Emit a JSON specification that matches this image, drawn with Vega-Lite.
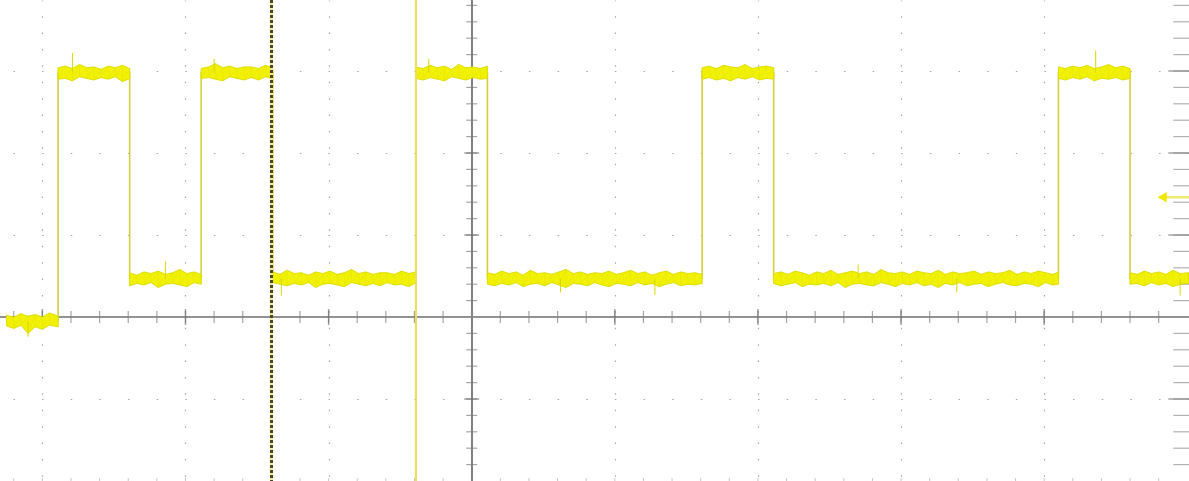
{
  "$schema": "https://vega.github.io/schema/vega-lite/v6.json",
  "width": 1189,
  "height": 481,
  "autosize": {"type": "none"},
  "padding": 0,
  "background": "#ffffff",
  "config": {
    "view": {"stroke": null},
    "axis": {"labels": false, "ticks": false, "domain": false, "grid": false, "title": null}
  },
  "datasets": {
    "band": [
      {"g":0,"t":-3.25,"lo":-0.11,"hi":0.02},{"g":0,"t":-3.20,"lo":-0.14,"hi":0.00},{"g":0,"t":-3.15,"lo":-0.10,"hi":0.04},{"g":0,"t":-3.10,"lo":-0.20,"hi":0.01},{"g":0,"t":-3.05,"lo":-0.12,"hi":0.03},{"g":0,"t":-3.00,"lo":-0.15,"hi":0.00},{"g":0,"t":-2.95,"lo":-0.10,"hi":0.05},{"g":0,"t":-2.89,"lo":-0.12,"hi":0.01},
      {"g":1,"t":-2.89,"lo":2.90,"hi":3.04},{"g":1,"t":-2.84,"lo":2.91,"hi":3.06},{"g":1,"t":-2.79,"lo":2.88,"hi":3.03},{"g":1,"t":-2.74,"lo":2.93,"hi":3.08},{"g":1,"t":-2.69,"lo":2.91,"hi":3.04},{"g":1,"t":-2.64,"lo":2.89,"hi":3.05},{"g":1,"t":-2.59,"lo":2.92,"hi":3.02},{"g":1,"t":-2.54,"lo":2.90,"hi":3.06},{"g":1,"t":-2.49,"lo":2.93,"hi":3.04},{"g":1,"t":-2.44,"lo":2.87,"hi":3.07},{"g":1,"t":-2.39,"lo":2.91,"hi":3.03},
      {"g":2,"t":-2.39,"lo":0.38,"hi":0.54},{"g":2,"t":-2.34,"lo":0.41,"hi":0.51},{"g":2,"t":-2.29,"lo":0.39,"hi":0.55},{"g":2,"t":-2.24,"lo":0.42,"hi":0.53},{"g":2,"t":-2.19,"lo":0.36,"hi":0.56},{"g":2,"t":-2.14,"lo":0.40,"hi":0.52},{"g":2,"t":-2.09,"lo":0.41,"hi":0.54},{"g":2,"t":-2.04,"lo":0.39,"hi":0.58},{"g":2,"t":-1.99,"lo":0.37,"hi":0.53},{"g":2,"t":-1.94,"lo":0.42,"hi":0.55},{"g":2,"t":-1.89,"lo":0.40,"hi":0.52},
      {"g":3,"t":-1.89,"lo":2.91,"hi":3.03},{"g":3,"t":-1.84,"lo":2.92,"hi":3.05},{"g":3,"t":-1.79,"lo":2.90,"hi":3.09},{"g":3,"t":-1.74,"lo":2.88,"hi":3.04},{"g":3,"t":-1.69,"lo":2.93,"hi":3.06},{"g":3,"t":-1.64,"lo":2.91,"hi":3.03},{"g":3,"t":-1.59,"lo":2.89,"hi":3.05},{"g":3,"t":-1.54,"lo":2.92,"hi":3.05},{"g":3,"t":-1.49,"lo":2.89,"hi":3.03},{"g":3,"t":-1.44,"lo":2.93,"hi":3.07},{"g":3,"t":-1.39,"lo":2.90,"hi":3.04},
      {"g":4,"t":-1.39,"lo":0.42,"hi":0.55},{"g":4,"t":-1.34,"lo":0.40,"hi":0.52},{"g":4,"t":-1.29,"lo":0.38,"hi":0.57},{"g":4,"t":-1.24,"lo":0.41,"hi":0.53},{"g":4,"t":-1.19,"lo":0.39,"hi":0.54},{"g":4,"t":-1.14,"lo":0.42,"hi":0.51},{"g":4,"t":-1.09,"lo":0.36,"hi":0.55},{"g":4,"t":-1.04,"lo":0.40,"hi":0.53},{"g":4,"t":-0.99,"lo":0.41,"hi":0.56},{"g":4,"t":-0.94,"lo":0.39,"hi":0.52},{"g":4,"t":-0.89,"lo":0.37,"hi":0.54},{"g":4,"t":-0.84,"lo":0.42,"hi":0.58},{"g":4,"t":-0.79,"lo":0.40,"hi":0.53},{"g":4,"t":-0.74,"lo":0.38,"hi":0.55},{"g":4,"t":-0.69,"lo":0.41,"hi":0.52},{"g":4,"t":-0.64,"lo":0.38,"hi":0.54},{"g":4,"t":-0.59,"lo":0.42,"hi":0.54},{"g":4,"t":-0.54,"lo":0.39,"hi":0.52},{"g":4,"t":-0.49,"lo":0.40,"hi":0.56},{"g":4,"t":-0.44,"lo":0.37,"hi":0.53},{"g":4,"t":-0.39,"lo":0.42,"hi":0.55},
      {"g":5,"t":-0.39,"lo":2.91,"hi":3.05},{"g":5,"t":-0.34,"lo":2.89,"hi":3.03},{"g":5,"t":-0.29,"lo":2.92,"hi":3.07},{"g":5,"t":-0.24,"lo":2.90,"hi":3.04},{"g":5,"t":-0.19,"lo":2.88,"hi":3.06},{"g":5,"t":-0.14,"lo":2.93,"hi":3.02},{"g":5,"t":-0.09,"lo":2.91,"hi":3.08},{"g":5,"t":-0.04,"lo":2.89,"hi":3.04},{"g":5,"t":0.01,"lo":2.92,"hi":3.05},{"g":5,"t":0.06,"lo":2.90,"hi":3.03},{"g":5,"t":0.11,"lo":2.91,"hi":3.06},
      {"g":6,"t":0.11,"lo":0.40,"hi":0.54},{"g":6,"t":0.16,"lo":0.38,"hi":0.52},{"g":6,"t":0.21,"lo":0.41,"hi":0.56},{"g":6,"t":0.26,"lo":0.39,"hi":0.53},{"g":6,"t":0.31,"lo":0.42,"hi":0.55},{"g":6,"t":0.36,"lo":0.37,"hi":0.51},{"g":6,"t":0.41,"lo":0.40,"hi":0.57},{"g":6,"t":0.46,"lo":0.41,"hi":0.53},{"g":6,"t":0.51,"lo":0.38,"hi":0.54},{"g":6,"t":0.56,"lo":0.42,"hi":0.52},{"g":6,"t":0.61,"lo":0.39,"hi":0.55},{"g":6,"t":0.66,"lo":0.36,"hi":0.58},{"g":6,"t":0.71,"lo":0.41,"hi":0.53},{"g":6,"t":0.76,"lo":0.40,"hi":0.55},{"g":6,"t":0.81,"lo":0.38,"hi":0.52},{"g":6,"t":0.86,"lo":0.42,"hi":0.54},{"g":6,"t":0.91,"lo":0.39,"hi":0.53},{"g":6,"t":0.96,"lo":0.37,"hi":0.56},{"g":6,"t":1.01,"lo":0.41,"hi":0.52},{"g":6,"t":1.06,"lo":0.40,"hi":0.54},{"g":6,"t":1.11,"lo":0.38,"hi":0.57},{"g":6,"t":1.16,"lo":0.42,"hi":0.53},{"g":6,"t":1.21,"lo":0.39,"hi":0.55},{"g":6,"t":1.26,"lo":0.41,"hi":0.51},{"g":6,"t":1.31,"lo":0.37,"hi":0.54},{"g":6,"t":1.36,"lo":0.40,"hi":0.56},{"g":6,"t":1.41,"lo":0.42,"hi":0.52},{"g":6,"t":1.46,"lo":0.38,"hi":0.55},{"g":6,"t":1.51,"lo":0.40,"hi":0.53},{"g":6,"t":1.56,"lo":0.39,"hi":0.54},{"g":6,"t":1.61,"lo":0.41,"hi":0.52},
      {"g":7,"t":1.61,"lo":2.90,"hi":3.04},{"g":7,"t":1.66,"lo":2.92,"hi":3.06},{"g":7,"t":1.71,"lo":2.89,"hi":3.03},{"g":7,"t":1.76,"lo":2.91,"hi":3.07},{"g":7,"t":1.81,"lo":2.88,"hi":3.05},{"g":7,"t":1.86,"lo":2.92,"hi":3.04},{"g":7,"t":1.91,"lo":2.90,"hi":3.08},{"g":7,"t":1.96,"lo":2.93,"hi":3.03},{"g":7,"t":2.01,"lo":2.89,"hi":3.05},{"g":7,"t":2.06,"lo":2.91,"hi":3.06},{"g":7,"t":2.11,"lo":2.90,"hi":3.04},
      {"g":8,"t":2.11,"lo":0.41,"hi":0.53},{"g":8,"t":2.16,"lo":0.38,"hi":0.55},{"g":8,"t":2.21,"lo":0.40,"hi":0.52},{"g":8,"t":2.26,"lo":0.42,"hi":0.56},{"g":8,"t":2.31,"lo":0.37,"hi":0.54},{"g":8,"t":2.36,"lo":0.40,"hi":0.51},{"g":8,"t":2.41,"lo":0.39,"hi":0.55},{"g":8,"t":2.46,"lo":0.41,"hi":0.53},{"g":8,"t":2.51,"lo":0.38,"hi":0.57},{"g":8,"t":2.56,"lo":0.42,"hi":0.52},{"g":8,"t":2.61,"lo":0.36,"hi":0.54},{"g":8,"t":2.66,"lo":0.40,"hi":0.56},{"g":8,"t":2.71,"lo":0.41,"hi":0.53},{"g":8,"t":2.76,"lo":0.39,"hi":0.55},{"g":8,"t":2.81,"lo":0.38,"hi":0.52},{"g":8,"t":2.86,"lo":0.42,"hi":0.58},{"g":8,"t":2.91,"lo":0.40,"hi":0.54},{"g":8,"t":2.96,"lo":0.37,"hi":0.53},{"g":8,"t":3.01,"lo":0.41,"hi":0.55},{"g":8,"t":3.06,"lo":0.39,"hi":0.52},{"g":8,"t":3.11,"lo":0.42,"hi":0.56},{"g":8,"t":3.16,"lo":0.38,"hi":0.54},{"g":8,"t":3.21,"lo":0.40,"hi":0.53},{"g":8,"t":3.26,"lo":0.36,"hi":0.57},{"g":8,"t":3.31,"lo":0.41,"hi":0.52},{"g":8,"t":3.36,"lo":0.39,"hi":0.55},{"g":8,"t":3.41,"lo":0.42,"hi":0.53},{"g":8,"t":3.46,"lo":0.38,"hi":0.54},{"g":8,"t":3.51,"lo":0.40,"hi":0.56},{"g":8,"t":3.56,"lo":0.41,"hi":0.52},{"g":8,"t":3.61,"lo":0.37,"hi":0.55},{"g":8,"t":3.66,"lo":0.40,"hi":0.53},{"g":8,"t":3.71,"lo":0.42,"hi":0.54},{"g":8,"t":3.76,"lo":0.39,"hi":0.57},{"g":8,"t":3.81,"lo":0.38,"hi":0.52},{"g":8,"t":3.86,"lo":0.41,"hi":0.55},{"g":8,"t":3.91,"lo":0.40,"hi":0.53},{"g":8,"t":3.96,"lo":0.37,"hi":0.56},{"g":8,"t":4.01,"lo":0.42,"hi":0.54},{"g":8,"t":4.06,"lo":0.39,"hi":0.52},{"g":8,"t":4.10,"lo":0.40,"hi":0.55},
      {"g":9,"t":4.10,"lo":2.91,"hi":3.05},{"g":9,"t":4.15,"lo":2.89,"hi":3.03},{"g":9,"t":4.20,"lo":2.92,"hi":3.06},{"g":9,"t":4.25,"lo":2.90,"hi":3.04},{"g":9,"t":4.30,"lo":2.93,"hi":3.07},{"g":9,"t":4.35,"lo":2.88,"hi":3.03},{"g":9,"t":4.40,"lo":2.91,"hi":3.05},{"g":9,"t":4.45,"lo":2.90,"hi":3.08},{"g":9,"t":4.50,"lo":2.92,"hi":3.04},{"g":9,"t":4.55,"lo":2.89,"hi":3.06},{"g":9,"t":4.60,"lo":2.91,"hi":3.03},
      {"g":10,"t":4.60,"lo":0.40,"hi":0.54},{"g":10,"t":4.65,"lo":0.41,"hi":0.52},{"g":10,"t":4.70,"lo":0.38,"hi":0.56},{"g":10,"t":4.75,"lo":0.42,"hi":0.53},{"g":10,"t":4.80,"lo":0.39,"hi":0.55},{"g":10,"t":4.85,"lo":0.41,"hi":0.52},{"g":10,"t":4.90,"lo":0.37,"hi":0.57},{"g":10,"t":4.95,"lo":0.40,"hi":0.53},{"g":10,"t":5.01,"lo":0.41,"hi":0.54}
    ],
    "wave": [
      {"i":0,"t":-3.25,"v":-0.05},{"i":1,"t":-2.89,"v":-0.05},{"i":2,"t":-2.89,"v":2.98},{"i":3,"t":-2.39,"v":2.98},{"i":4,"t":-2.39,"v":0.47},{"i":5,"t":-1.89,"v":0.47},{"i":6,"t":-1.89,"v":2.98},{"i":7,"t":-1.39,"v":2.98},{"i":8,"t":-1.39,"v":0.47},{"i":9,"t":-0.39,"v":0.47},{"i":10,"t":-0.39,"v":2.98},{"i":11,"t":0.11,"v":2.98},{"i":12,"t":0.11,"v":0.47},{"i":13,"t":1.61,"v":0.47},{"i":14,"t":1.61,"v":2.98},{"i":15,"t":2.11,"v":2.98},{"i":16,"t":2.11,"v":0.47},{"i":17,"t":4.10,"v":0.47},{"i":18,"t":4.10,"v":2.98},{"i":19,"t":4.60,"v":2.98},{"i":20,"t":4.60,"v":0.47},{"i":21,"t":5.01,"v":0.47}
    ],
    "spk": [
      {"t":-2.79,"a":2.98,"b":3.22},{"t":-1.80,"a":2.98,"b":3.15},{"t":-0.30,"a":2.98,"b":3.15},{"t":4.36,"a":2.98,"b":3.25},
      {"t":-2.14,"a":0.47,"b":0.68},{"t":-1.33,"a":0.47,"b":0.26},{"t":1.28,"a":0.47,"b":0.27},{"t":3.39,"a":0.47,"b":0.30},{"t":4.95,"a":0.47,"b":0.26},{"t":-3.10,"a":-0.05,"b":-0.24},{"t":0.62,"a":0.47,"b":0.30},{"t":2.70,"a":0.47,"b":0.64}
    ],
    "xt": [
      {"v":-3.2},{"v":-3.0},{"v":-2.8},{"v":-2.6},{"v":-2.4},{"v":-2.2},{"v":-2.0},{"v":-1.8},{"v":-1.6},{"v":-1.4},{"v":-1.2},{"v":-1.0},{"v":-0.8},{"v":-0.6},{"v":-0.4},{"v":-0.2},
      {"v":0.2},{"v":0.4},{"v":0.6},{"v":0.8},{"v":1.0},{"v":1.2},{"v":1.4},{"v":1.6},{"v":1.8},{"v":2.0},{"v":2.2},{"v":2.4},{"v":2.6},{"v":2.8},{"v":3.0},{"v":3.2},{"v":3.4},{"v":3.6},{"v":3.8},{"v":4.0},{"v":4.2},{"v":4.4},{"v":4.6},{"v":4.8}
    ],
    "xm": [{"v":-3},{"v":-2},{"v":-1},{"v":1},{"v":2},{"v":3},{"v":4}],
    "yt": [
      {"v":-1.8},{"v":-1.6},{"v":-1.4},{"v":-1.2},{"v":-1.0},{"v":-0.8},{"v":-0.6},{"v":-0.4},{"v":-0.2},
      {"v":0.2},{"v":0.4},{"v":0.6},{"v":0.8},{"v":1.0},{"v":1.2},{"v":1.4},{"v":1.6},{"v":1.8},{"v":2.0},{"v":2.2},{"v":2.4},{"v":2.6},{"v":2.8},{"v":3.0},{"v":3.2},{"v":3.4},{"v":3.6},{"v":3.8}
    ],
    "ym": [{"v":-1},{"v":1},{"v":2},{"v":3}],
    "trig": [{"t":4.825,"v":1.46}]
  },
  "layer": [
    {
      "data": {"name": "band"},
      "mark": {"type": "area", "color": "#f0f000", "opacity": 0},
      "encoding": {
        "x": {"field": "t", "type": "quantitative", "title": null,
              "scale": {"domain": [-3.296, 5.012], "nice": false, "zero": false},
              "axis": {"grid": true, "values": [-3, -2, -1, 1, 2, 3, 4], "gridColor": "#a8a8a8", "gridWidth": 1.2, "gridDash": [1.5, 14.9], "gridDashOffset": 0.75}},
        "y": {"field": "hi", "type": "quantitative", "title": null,
              "scale": {"domain": [-2.0, 3.866], "nice": false, "zero": false},
              "axis": {"grid": true, "values": [-2, -1, 1, 2, 3], "gridColor": "#a8a8a8", "gridWidth": 1.2, "gridDash": [1.5, 27.14], "gridDashOffset": 15.7}},
        "y2": {"field": "lo"},
        "detail": {"field": "g"}
      }
    },
    {
      "data": {"name": "xt"},
      "mark": {"type": "rule", "color": "#929292", "strokeWidth": 1.3},
      "encoding": {"y": {"datum": 0}}
    },
    {
      "data": {"name": "xt"},
      "mark": {"type": "rule", "color": "#808080", "strokeWidth": 1.3},
      "encoding": {"x": {"datum": 0}}
    },
    {
      "data": {"name": "xt"},
      "mark": {"type": "tick", "orient": "vertical", "size": 12, "thickness": 1.2, "color": "#808080"},
      "encoding": {"x": {"field": "v", "type": "quantitative", "title": null}, "y": {"datum": 0}}
    },
    {
      "data": {"name": "xm"},
      "mark": {"type": "tick", "orient": "vertical", "size": 16, "thickness": 1.4, "color": "#707070"},
      "encoding": {"x": {"field": "v", "type": "quantitative", "title": null}, "y": {"datum": 0}}
    },
    {
      "data": {"name": "xt"},
      "mark": {"type": "tick", "orient": "vertical", "size": 6, "thickness": 1, "color": "#b0b0b0"},
      "encoding": {"x": {"field": "v", "type": "quantitative", "title": null}, "y": {"datum": -2.0}}
    },
    {
      "data": {"name": "yt"},
      "mark": {"type": "tick", "orient": "horizontal", "size": 11, "thickness": 1.2, "color": "#808080"},
      "encoding": {"y": {"field": "v", "type": "quantitative", "title": null}, "x": {"datum": 0}}
    },
    {
      "data": {"name": "ym"},
      "mark": {"type": "tick", "orient": "horizontal", "size": 15, "thickness": 1.4, "color": "#707070"},
      "encoding": {"y": {"field": "v", "type": "quantitative", "title": null}, "x": {"datum": 0}}
    },
    {
      "data": {"name": "yt"},
      "mark": {"type": "tick", "orient": "horizontal", "size": 28, "thickness": 1.2, "color": "#909090"},
      "encoding": {"y": {"field": "v", "type": "quantitative", "title": null}, "x": {"datum": 5.0}}
    },
    {
      "data": {"name": "ym"},
      "mark": {"type": "tick", "orient": "horizontal", "size": 38, "thickness": 1.4, "color": "#808080"},
      "encoding": {"y": {"field": "v", "type": "quantitative", "title": null}, "x": {"datum": 5.0}}
    },
    {
      "data": {"name": "wave"},
      "mark": {"type": "line", "color": "#d4cf3c", "strokeWidth": 1.6},
      "encoding": {
        "x": {"field": "t", "type": "quantitative", "title": null},
        "y": {"field": "v", "type": "quantitative", "title": null},
        "order": {"field": "i"}
      }
    },
    {
      "data": {"name": "band"},
      "mark": {"type": "area", "color": "#f2f200", "stroke": "#dada00", "strokeWidth": 0.9},
      "encoding": {
        "x": {"field": "t", "type": "quantitative", "title": null},
        "y": {"field": "hi", "type": "quantitative", "title": null},
        "y2": {"field": "lo"},
        "detail": {"field": "g"}
      }
    },
    {
      "data": {"name": "band"},
      "transform": [{"fold": ["hi", "lo"], "as": ["k", "val"]}],
      "mark": {"type": "line", "color": "#e2e200", "strokeWidth": 0.5},
      "encoding": {
        "x": {"field": "t", "type": "quantitative", "title": null},
        "y": {"field": "val", "type": "quantitative", "title": null},
        "detail": {"field": "g"},
        "order": [{"field": "t"}, {"field": "k"}]
      }
    },
    {
      "data": {"name": "spk"},
      "mark": {"type": "rule", "color": "#d8d800", "strokeWidth": 1},
      "encoding": {
        "x": {"field": "t", "type": "quantitative", "title": null},
        "y": {"field": "a", "type": "quantitative", "title": null},
        "y2": {"field": "b"}
      }
    },
    {
      "data": {"name": "xt"},
      "mark": {"type": "rule", "color": "#ecdc68", "strokeWidth": 1.8},
      "encoding": {"x": {"datum": -0.39}}
    },
    {
      "data": {"name": "xt"},
      "mark": {"type": "rule", "color": "#f2eca0", "strokeWidth": 2.5},
      "encoding": {"x": {"datum": -1.40}}
    },
    {
      "data": {"name": "xt"},
      "mark": {"type": "rule", "color": "#4e4620", "strokeWidth": 2, "strokeDash": [2.5, 2.5]},
      "encoding": {"x": {"datum": -1.40}}
    },
    {
      "data": {"name": "trig"},
      "mark": {"type": "rule", "color": "#f0ea70", "strokeWidth": 2.5},
      "encoding": {
        "x": {"field": "t", "type": "quantitative", "title": null},
        "x2": {"datum": 5.012},
        "y": {"field": "v", "type": "quantitative", "title": null}
      }
    },
    {
      "data": {"name": "trig"},
      "mark": {"type": "point", "shape": "triangle-left", "filled": true, "color": "#f0e800", "size": 110, "opacity": 1},
      "encoding": {
        "x": {"field": "t", "type": "quantitative", "title": null},
        "y": {"field": "v", "type": "quantitative", "title": null}
      }
    }
  ]
}
